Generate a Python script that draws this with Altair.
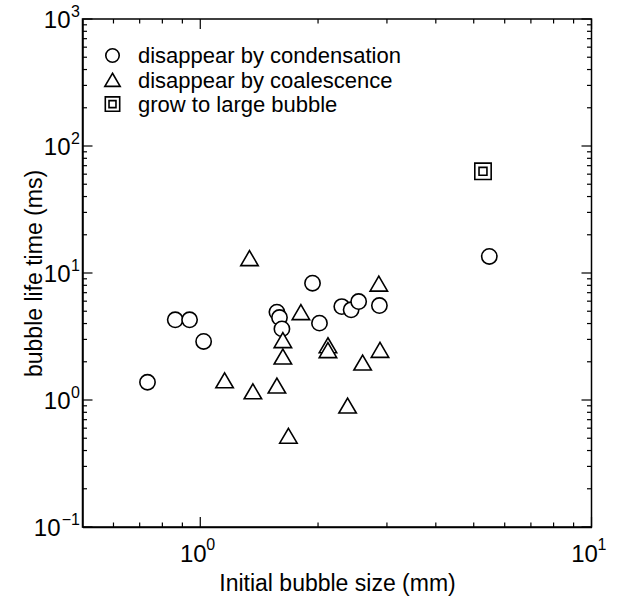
import altair as alt
import pandas as pd

# ---------------- data ----------------
cond_x = [0.733, 0.863, 0.939, 1.02, 1.57, 1.594, 1.617, 1.936, 2.017, 2.30, 2.43, 2.54, 2.87, 5.48]
cond_y = [1.38, 4.28, 4.28, 2.89, 4.92, 4.46, 3.63, 8.31, 4.03, 5.44, 5.13, 5.96, 5.54, 13.5]
coal_x = [1.336, 1.808, 1.626, 1.626, 2.12, 2.12, 1.154, 1.363, 1.57, 1.68, 2.38, 2.60, 2.88, 2.86]
coal_y = [13.1, 4.92, 2.96, 2.20, 2.70, 2.47, 1.43, 1.17, 1.30, 0.523, 0.905, 1.97, 2.48, 8.25]
grow_x = [5.28]
grow_y = [63.2]

types = ["disappear by condensation", "disappear by coalescence", "grow to large bubble"]

x_major = [1, 10]
x_minor = [0.6, 0.7, 0.8, 0.9, 2, 3, 4, 5, 6, 7, 8, 9]
y_major = [0.1, 1, 10, 100, 1000]
y_minor = [m * d for d in [0.1, 1, 10, 100] for m in range(2, 10)]

x_label_exp = [0, 1]
y_label_exp = [-1, 0, 1, 2, 3]

x_title = "Initial bubble size (mm)"
y_title = "bubble life time (ms)"

# ---------------- layout / style ----------------
FONT = "Liberation Sans"
W, H = 509, 508
PAD_L, PAD_T = 82.5, 19
MAJ, MIN = 10, 4.5
LBL, EXP = 24, 16
TITLE_FS, LEG_FS = 23, 22

CIRCLE = "M0.85,0A0.85,0.85,0,1,1,-0.85,0A0.85,0.85,0,1,1,0.85,0Z"
TRI = "M0,-0.83L0.97,0.83L-0.97,0.83Z"
SQ = "M-0.91,-0.91H0.91V0.91H-0.91Z M-0.44,-0.44H0.44V0.44H-0.44Z"
shape_scale = alt.Scale(domain=types, range=[CIRCLE, TRI, SQ])

xscale = alt.Scale(type="log", domain=[0.5, 10], nice=False)
yscale = alt.Scale(type="log", domain=[0.1, 1000], nice=False)

common_axis = dict(labels=False, ticks=False, grid=False, domain=True, domainColor="black",
                   domainWidth=1.5, titleFont=FONT, titleFontSize=TITLE_FS,
                   titleFontWeight="normal", titleColor="black")
xaxis = alt.Axis(title=x_title, titlePadding=45, **common_axis)
yaxis = alt.Axis(title=y_title, titlePadding=36, **common_axis)

pts = pd.DataFrame({
    "size_mm": cond_x + coal_x + grow_x,
    "life_ms": cond_y + coal_y + grow_y,
    "type": [types[0]] * len(cond_x) + [types[1]] * len(coal_x) + [types[2]] * len(grow_x),
})

sym_style = dict(filled=False, fill="white", color="black", strokeWidth=1.6, opacity=1)

scatter = alt.Chart(pts).mark_point(size=324, **sym_style).encode(
    x=alt.X("size_mm:Q", scale=xscale, axis=xaxis),
    y=alt.Y("life_ms:Q", scale=yscale, axis=yaxis),
    shape=alt.Shape("type:N", scale=shape_scale, legend=None),
)

layers = []

# tick marks (inward, on all four sides)
for vals, ln in [(x_major, MAJ), (x_minor, MIN)]:
    d = pd.DataFrame({"v": vals})
    base = alt.Chart(d).mark_rule(color="black", strokeWidth=1.2)
    layers.append(base.encode(x=alt.X("v:Q", scale=xscale, axis=xaxis),
                              y=alt.value(H), y2=alt.value(H - ln)))
    layers.append(base.encode(x=alt.X("v:Q", scale=xscale, axis=xaxis),
                              y=alt.value(0), y2=alt.value(ln)))
for vals, ln in [(y_major, MAJ), (y_minor, MIN)]:
    d = pd.DataFrame({"v": vals})
    base = alt.Chart(d).mark_rule(color="black", strokeWidth=1.2)
    layers.append(base.encode(y=alt.Y("v:Q", scale=yscale, axis=yaxis),
                              x=alt.value(0), x2=alt.value(ln)))
    layers.append(base.encode(y=alt.Y("v:Q", scale=yscale, axis=yaxis),
                              x=alt.value(W), x2=alt.value(W - ln)))

def sup(e):
    return ("\u2212" + str(-e)) if e < 0 else str(e)

# x tick labels 10^e
xl = pd.DataFrame({"v": [10.0 ** e for e in x_label_exp], "e": [sup(e) for e in x_label_exp]})
layers.append(alt.Chart(xl).mark_text(text="10", font=FONT, fontSize=LBL, align="center",
                                      baseline="alphabetic", dx=-7, color="black").encode(
    x=alt.X("v:Q", scale=xscale, axis=xaxis), y=alt.value(H + 35)))
layers.append(alt.Chart(xl).mark_text(font=FONT, fontSize=EXP, align="left",
                                      baseline="alphabetic", dx=6, color="black").encode(
    x=alt.X("v:Q", scale=xscale, axis=xaxis), y=alt.value(H + 23), text="e:N"))

# y tick labels 10^e
for exps, base_right in [([e for e in y_label_exp if e >= 0], -12),
                         ([e for e in y_label_exp if e < 0], -22)]:
    yl = pd.DataFrame({"v": [10.0 ** e for e in exps], "e": [sup(e) for e in exps]})
    layers.append(alt.Chart(yl).mark_text(text="10", font=FONT, fontSize=LBL, align="right",
                                          baseline="alphabetic", dy=9, color="black").encode(
        y=alt.Y("v:Q", scale=yscale, axis=yaxis), x=alt.value(base_right)))
    layers.append(alt.Chart(yl).mark_text(font=FONT, fontSize=EXP, align="right",
                                          baseline="alphabetic", dy=-2, color="black").encode(
        y=alt.Y("v:Q", scale=yscale, axis=yaxis), x=alt.value(-2.5), text="e:N"))

# legend (top-left, inside the frame), same shape scale as the points
leg = pd.DataFrame({"type": types, "row": list(range(len(types)))})
leg_base = alt.Chart(leg).transform_calculate(ypix="36.5 + 24.3 * datum.row")
layers.append(leg_base.mark_point(size=250, **sym_style).encode(
    x=alt.value(30), y=alt.Y("ypix:Q", scale=None),
    shape=alt.Shape("type:N", scale=shape_scale, legend=None)))
layers.append(leg_base.mark_text(font=FONT, fontSize=LEG_FS, align="left", baseline="alphabetic",
                                 dy=7.8, color="black").encode(
    x=alt.value(55.5), y=alt.Y("ypix:Q", scale=None), text="type:N"))

chart = alt.layer(scatter, *layers).properties(
    width=W, height=H,
    padding={"left": PAD_L, "top": PAD_T, "right": 619 - PAD_L - W, "bottom": 603 - PAD_T - H},
    autosize=alt.AutoSizeParams(type="none"),
    background="white",
).configure_view(stroke="black", strokeWidth=1.5)

chart.save("out.html", embed_options={"renderer": "svg", "actions": False})
